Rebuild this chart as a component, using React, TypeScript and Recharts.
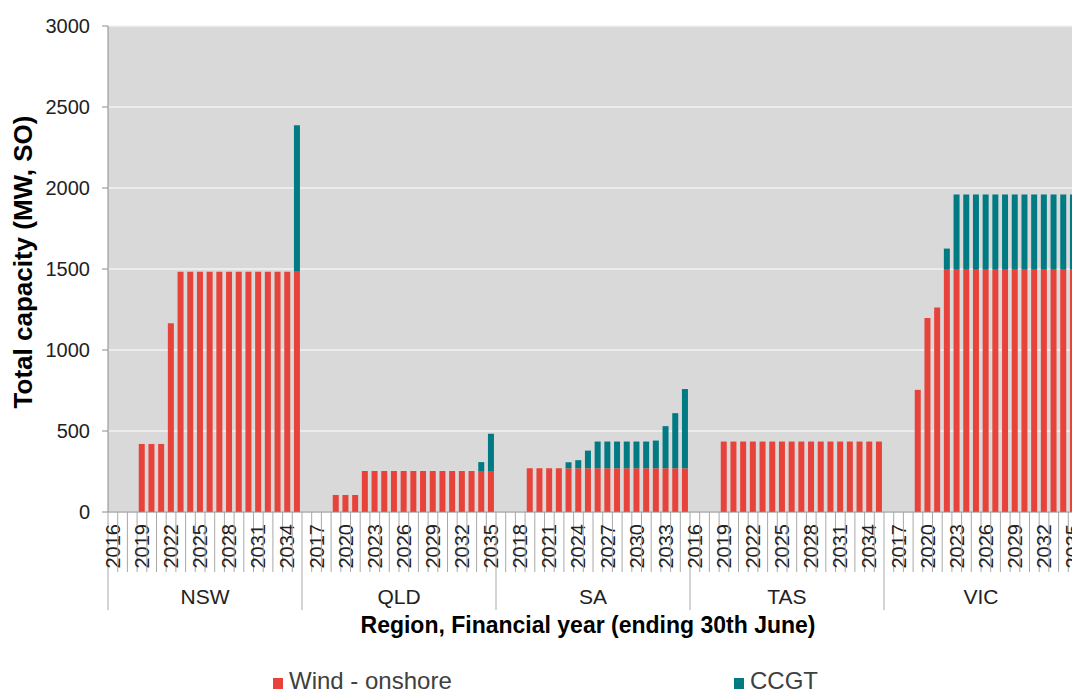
import React from "react";
import { BarChart, Bar, XAxis, YAxis, CartesianGrid, Label } from "recharts";

// ---- data ----

const YEARS = [
  2016, 2017, 2018, 2019, 2020, 2021, 2022, 2023, 2024, 2025,
  2026, 2027, 2028, 2029, 2030, 2031, 2032, 2033, 2034, 2035,
];
const REGIONS = ["NSW", "QLD", "SA", "TAS", "VIC"];
const Y_TICKS = [0, 500, 1000, 1500, 2000, 2500, 3000];

const WIND_NSW = [0, 0, 0, 420, 420, 420, 1165, 1483, 1483, 1483, 1483, 1483, 1483, 1483, 1483, 1483, 1483, 1483, 1483, 1483];
const CCGT_NSW = [0, 0, 0, 0, 0, 0, 0, 0, 0, 0, 0, 0, 0, 0, 0, 0, 0, 0, 0, 905];

const WIND_QLD = [0, 0, 0, 105, 105, 105, 253, 253, 253, 253, 253, 253, 253, 253, 253, 253, 253, 253, 253, 253];
const CCGT_QLD = [0, 0, 0, 0, 0, 0, 0, 0, 0, 0, 0, 0, 0, 0, 0, 0, 0, 0, 55, 230];

const WIND_SA = [0, 0, 0, 270, 270, 270, 270, 270, 270, 270, 270, 270, 270, 270, 270, 270, 270, 270, 270, 270];
const CCGT_SA = [0, 0, 0, 0, 0, 0, 0, 37, 50, 109, 165, 165, 165, 165, 165, 165, 171, 260, 340, 489];

const WIND_TAS = [0, 0, 0, 435, 435, 435, 435, 435, 435, 435, 435, 435, 435, 435, 435, 435, 435, 435, 435, 435];
const CCGT_TAS = [0, 0, 0, 0, 0, 0, 0, 0, 0, 0, 0, 0, 0, 0, 0, 0, 0, 0, 0, 0];

const WIND_VIC = [0, 0, 0, 754, 1198, 1263, 1500, 1500, 1500, 1500, 1500, 1500, 1500, 1500, 1500, 1500, 1500, 1500, 1500, 1500];
const CCGT_VIC = [0, 0, 0, 0, 0, 0, 126, 460, 460, 460, 460, 460, 460, 460, 460, 460, 460, 460, 460, 460];

const WIND = [WIND_NSW, WIND_QLD, WIND_SA, WIND_TAS, WIND_VIC];
const CCGT = [CCGT_NSW, CCGT_QLD, CCGT_SA, CCGT_TAS, CCGT_VIC];

const data = REGIONS.flatMap((region, r) =>
  YEARS.map((year, i) => ({
    key: `${region}-${year}`,
    region,
    year,
    wind: WIND[r][i],
    ccgt: CCGT[r][i],
  }))
);
const indexOf = new Map(data.map((d, i) => [d.key, i]));

// ---- layout ----

const FONT = "'Liberation Sans', Arial, sans-serif";
const RED = "#e8433a";
const TEAL = "#007b84";
const AXIS = "#8c8c8c";

const CHART_W = 1090;
const CHART_H = 693;
const MARGIN = { top: 26, right: 12, left: 0, bottom: 0 };
const Y_AXIS_W = 108;
const PLOT_W = CHART_W - MARGIN.left - MARGIN.right - Y_AXIS_W;
const STEP = PLOT_W / data.length;

// year ticks + category separators + region labels, all in one tick
function YearTick(props: any) {
  const { x, y, payload } = props;
  const i = indexOf.get(payload.value) ?? 0;
  const d = data[i];
  const n = YEARS.length;
  const left = x - STEP / 2;
  const ty = y + 12;
  return (
    <g>
      <line x1={left} x2={left} y1={y} y2={y + (i % n === 0 ? 98 : 60)} stroke="#a8a8a8" />
      {i === data.length - 1 && (
        <line x1={x + STEP / 2} x2={x + STEP / 2} y1={y} y2={y + 98} stroke="#a8a8a8" />
      )}
      {i % 3 === 0 && (
        <text
          x={x}
          y={ty}
          transform={`rotate(-90 ${x} ${ty})`}
          textAnchor="end"
          dominantBaseline="central"
          fontSize={20}
          fill="#222"
          fontFamily={FONT}
        >
          {d.year}
        </text>
      )}
      {i % n === n / 2 && (
        <text x={left} y={y + 92} textAnchor="middle" fontSize={21} fill="#222" fontFamily={FONT}>
          {d.region}
        </text>
      )}
    </g>
  );
}

function YTitle(props: any) {
  const vb = props.viewBox;
  const cx = vb.x + 23;
  const cy = vb.y + vb.height / 2 - 7;
  return (
    <text
      x={cx}
      y={cy}
      transform={`rotate(-90 ${cx} ${cy})`}
      textAnchor="middle"
      dominantBaseline="central"
      fontSize={26}
      fontWeight="bold"
      fill="#000"
      fontFamily={FONT}
    >
      Total capacity (MW, SO)
    </text>
  );
}

function XTitle(props: any) {
  const vb = props.viewBox;
  return (
    <text
      x={vb.x + vb.width / 2 - 5}
      y={vb.y + 121}
      textAnchor="middle"
      fontSize={23}
      fontWeight="bold"
      fill="#000"
      fontFamily={FONT}
    >
      Region, Financial year (ending 30th June)
    </text>
  );
}

const legendItems = [
  { name: "Wind - onshore", color: RED, left: 273 },
  { name: "CCGT", color: TEAL, left: 734 },
];

export default function App() {
  return (
    <div
      style={{
        position: "absolute",
        left: 0,
        top: 0,
        width: 1072,
        height: 693,
        overflow: "hidden",
        background: "#fff",
        fontFamily: FONT,
      }}
    >
      <BarChart width={CHART_W} height={CHART_H} data={data} margin={MARGIN} barCategoryGap="17%">
        <CartesianGrid vertical={false} stroke="#f2f2f2" strokeWidth={1.5} fill="#d9d9d9" />
        <XAxis
          dataKey="key"
          interval={0}
          height={181}
          tickSize={0}
          tickMargin={0}
          tickLine={false}
          axisLine={{ stroke: AXIS }}
          tick={<YearTick />}
        >
          <Label content={<XTitle />} />
        </XAxis>
        <YAxis
          width={Y_AXIS_W}
          domain={[0, 3000]}
          ticks={Y_TICKS}
          interval={0}
          tick={{ fontSize: 20, fill: "#222", fontFamily: FONT }}
          tickSize={6}
          tickMargin={12}
          axisLine={{ stroke: AXIS }}
          tickLine={{ stroke: AXIS }}
        >
          <Label content={<YTitle />} />
        </YAxis>
        <Bar dataKey="wind" stackId="a" fill={RED} isAnimationActive={false} />
        <Bar dataKey="ccgt" stackId="a" fill={TEAL} isAnimationActive={false} />
      </BarChart>

      {/* legend */}
      {legendItems.map((item) => (
        <React.Fragment key={item.name}>
          <div
            style={{
              position: "absolute",
              left: item.left,
              top: 678,
              width: 10,
              height: 11,
              background: item.color,
            }}
          />
          <span
            style={{
              position: "absolute",
              left: item.left + 16,
              top: 668,
              fontSize: 24,
              lineHeight: "26px",
              color: "#404040",
              whiteSpace: "nowrap",
            }}
          >
            {item.name}
          </span>
        </React.Fragment>
      ))}
    </div>
  );
}
